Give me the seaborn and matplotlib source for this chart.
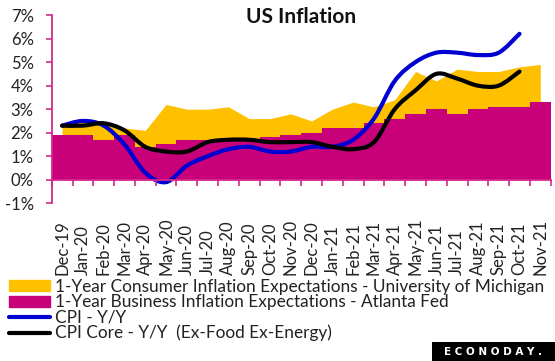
import numpy as np
import pandas as pd
import matplotlib
matplotlib.use("Agg")
import matplotlib.pyplot as plt
import seaborn as sns
from matplotlib.path import Path
from matplotlib.patches import PathPatch, Patch, Rectangle
from matplotlib.lines import Line2D
from matplotlib.ticker import FuncFormatter, MultipleLocator

months = ["Dec-19", "Jan-20", "Feb-20", "Mar-20", "Apr-20", "May-20", "Jun-20",
          "Jul-20", "Aug-20", "Sep-20", "Oct-20", "Nov-20", "Dec-20", "Jan-21",
          "Feb-21", "Mar-21", "Apr-21", "May-21", "Jun-21", "Jul-21", "Aug-21",
          "Sep-21", "Oct-21", "Nov-21"]
michigan = [2.3, 2.5, 2.4, 2.2, 2.1, 3.2, 3.0, 3.0, 3.1, 2.6, 2.6, 2.8,
            2.5, 3.0, 3.3, 3.1, 3.4, 4.6, 4.2, 4.7, 4.6, 4.6, 4.8, 4.9]
atlanta = [1.9, 1.9, 1.7, 1.9, 1.4, 1.5, 1.7, 1.7, 1.7, 1.7, 1.8, 1.9,
           2.0, 2.2, 2.2, 2.4, 2.6, 2.8, 3.0, 2.8, 3.0, 3.1, 3.1, 3.3]
# CPI series stop at Oct-21
cpi = [2.3, 2.5, 2.3, 1.5, 0.3, -0.1, 0.6, 1.0, 1.3, 1.4, 1.2, 1.2,
       1.4, 1.4, 1.7, 2.6, 4.2, 5.0, 5.4, 5.4, 5.3, 5.4, 6.2]
core = [2.3, 2.3, 2.4, 2.1, 1.4, 1.2, 1.2, 1.6, 1.7, 1.7, 1.6, 1.6,
        1.6, 1.4, 1.3, 1.6, 3.0, 3.8, 4.5, 4.3, 4.0, 4.0, 4.6]

labels = ["1-Year Consumer Inflation Expectations - University of Michigan",
          "1-Year Business Inflation Expectations - Atlanta Fed",
          "CPI - Y/Y",
          "CPI Core - Y/Y  (Ex-Food Ex-Energy)"]

GOLD = "#FFC000"
MAGENTA = "#C8007A"
BLUE = "#0000D0"
AXIS = "#D4278F"
TXT = "#222222"


def smooth_path(xs, ys):
    # excel-style smoothed line: bezier segments through the data points
    pts = np.column_stack([xs, ys]).astype(float)
    n = len(pts)
    verts = [pts[0]]
    codes = [Path.MOVETO]
    for i in range(n - 1):
        p0 = pts[max(i - 1, 0)]
        p1 = pts[i]
        p2 = pts[i + 1]
        p3 = pts[min(i + 2, n - 1)]
        verts += [p1 + (p2 - p0) / 6, p2 - (p3 - p1) / 6, p2]
        codes += [Path.CURVE4] * 3
    return Path(verts, codes)


sns.set_style("white")
plt.rcParams['font.family'] = ['Lato', 'DejaVu Sans']

fig = plt.figure(figsize=(5.55, 3.61), dpi=100)
ax = fig.add_axes([0.0932, 0.4368, 0.899, 0.5216])

df = pd.DataFrame({"month": months, "michigan": michigan, "atlanta": atlanta})
x = np.arange(len(months))

ax.fill_between(x, michigan, color=GOLD, lw=0, zorder=1)
sns.barplot(data=df, x="month", y="atlanta", color=MAGENTA, width=1.0,
            saturation=1, linewidth=0, ax=ax, zorder=2)

for vals, col in [(cpi, BLUE), (core, "black")]:
    ax.add_patch(PathPatch(smooth_path(x[:len(vals)], vals), fill=False,
                           edgecolor=col, lw=3, capstyle="round",
                           joinstyle="round", zorder=4))

ax.set_xlim(-0.5, 23.5)
ax.set_ylim(-1, 7)
ax.set_xlabel("")
ax.set_ylabel("")
ax.yaxis.set_major_locator(MultipleLocator(1))
ax.yaxis.set_major_formatter(FuncFormatter(lambda v, p: f"{int(round(v))}%"))
ax.tick_params(axis="y", length=4.5, width=1.2, color=AXIS, pad=8.5,
               labelsize=12, labelcolor=TXT, left=True)
# month labels: start of text aligned at the bottom, reading upwards
ax.tick_params(axis="x", length=0, pad=51.5, labelsize=12, labelcolor=TXT)
for lab in ax.get_xticklabels():
    lab.set_rotation(90)
    lab.set_rotation_mode("anchor")
    lab.set_ha("left")
    lab.set_va("center")
for s in ["top", "right", "bottom"]:
    ax.spines[s].set_visible(False)
ax.spines["left"].set_color(AXIS)
ax.spines["left"].set_linewidth(1.3)

# zero line with category tick marks
sec = ax.secondary_xaxis(0.125)
sec.set_xticks(np.arange(-0.5, 24, 1))
sec.tick_params(length=4.5, width=1.2, color=AXIS, labelbottom=False)
sec.spines["bottom"].set_color(AXIS)
sec.spines["bottom"].set_linewidth(1.3)
sec.set_zorder(5)

fig.text(301 / 555, 1 - 22.7 / 361, "US Inflation", ha="center",
         va="baseline", fontsize=15, fontweight="bold", color="#111111")

handles = [Patch(color=GOLD), Patch(color=MAGENTA),
           Line2D([], [], color=BLUE, lw=3, solid_capstyle="round"),
           Line2D([], [], color="black", lw=3, solid_capstyle="round")]
fig.legend(handles, labels, loc="upper left", bbox_to_anchor=(9 / 555, 1 - 279 / 361),
           frameon=False, fontsize=12.4, labelcolor=TXT, handlelength=2.4,
           handleheight=0.6, handletextpad=0.3, labelspacing=-0.04,
           borderpad=0, borderaxespad=0)

fig.add_artist(Rectangle((0.778, 0), 0.222, 0.052, transform=fig.transFigure,
                         color="black", lw=0))
fig.text(0.889, 0.026, "E C O N O D A Y .", color="white", ha="center",
         va="center", fontsize=7.5, fontweight="bold", family="DejaVu Sans")

fig.savefig("out.png", dpi=100)
